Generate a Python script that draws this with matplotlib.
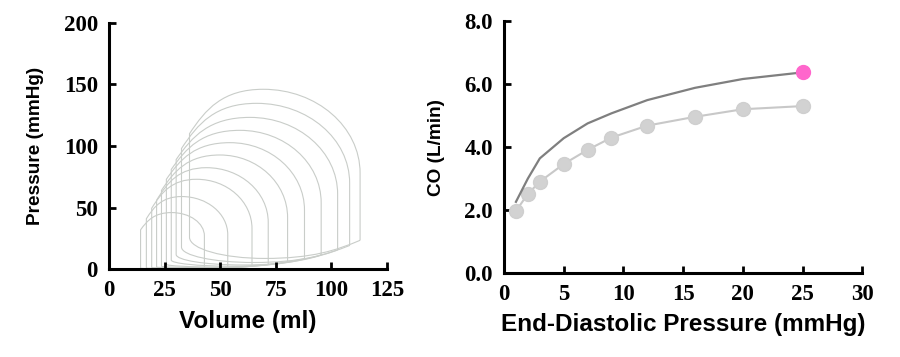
import matplotlib
matplotlib.use("Agg")
import matplotlib.pyplot as plt
from matplotlib.path import Path
from matplotlib.patches import PathPatch

# ---------------- Left panel: pressure-volume loops ----------------
esv      = [14.2, 16.8, 19.2, 21.4, 23.6, 25.8, 28.0, 30.2, 32.6, 36.2]   # end-systolic volume
p_es     = [32, 41, 49.5, 56, 64, 73, 81, 89, 98, 110]                  # end-systolic pressure
v_peak   = [28.2, 32.7, 39.4, 43.9, 49.9, 54.4, 58.9, 63.4, 66.4, 69.4]  # volume at peak pressure
p_peak   = [46, 59, 73, 82.4, 92.7, 102.7, 112.7, 123.2, 134.6, 146]     # peak pressure
edv      = [42.9, 53.4, 64.3, 71.6, 80.3, 87.9, 95.4, 102.8, 108.2, 112.9]  # end-diastolic volume
p_open   = [27, 28, 33, 38, 42, 48, 54, 61, 70, 78]                      # pressure at ejection onset
edp      = [0.8, 1.4, 2.4, 3.8, 6.2, 8.6, 11.6, 15.6, 19.3, 23.5]        # end-diastolic pressure
p_min    = [0.8, 1.0, 1.4, 1.8, 2.5, 4.0, 7.5, 12, 18, 26]               # end of isovolumic relaxation
v_floor  = [25, 30, 35, 40, 45, 50, 55, 60, 65, 70]                      # volume of minimum filling pressure
p_floor  = [0.5, 0.6, 0.8, 1.0, 1.3, 1.8, 2.5, 3.5, 5.5, 8.8]            # minimum filling pressure

vol_ticks = [0, 25, 50, 75, 100, 125]
pres_ticks = [0, 50, 100, 150, 200]

# ---------------- Right panel: cardiac output vs EDP ----------------
edp_pts   = [1, 2, 3, 5, 7, 9, 12, 16, 20, 25]
co_gray   = [1.97, 2.51, 2.90, 3.46, 3.91, 4.30, 4.68, 4.96, 5.20, 5.30]
co_dark   = [2.26, 3.00, 3.64, 4.28, 4.75, 5.07, 5.49, 5.88, 6.16, 6.37]
edp_ticks = [0, 5, 10, 15, 20, 25, 30]
co_ticks  = [0.0, 2.0, 4.0, 6.0, 8.0]

TICK_FONT = dict(family="Liberation Serif", weight="bold", size=16.5)
LABEL_FONT = dict(family="Liberation Sans", weight="bold")

fig = plt.figure(figsize=(9, 3.57), dpi=100)
ax1 = fig.add_axes([0.1211, 0.2457, 0.3089, 0.6907])
ax2 = fig.add_axes([0.56, 0.2353, 0.398, 0.7057])

K = 0.5523
loop_color = "#c9cdc9"
for i in range(len(esv)):
    a, b = esv[i], edv[i]
    vp, pp = v_peak[i], p_peak[i]
    verts = [(b, edp[i]), (b, p_open[i]),
             (b, p_open[i] + K * (pp - p_open[i])), (vp + K * (b - vp), pp), (vp, pp),
             (vp - K * (vp - a), pp), (a + 0.22 * (vp - a), p_es[i] + K * (pp - p_es[i])), (a, p_es[i]),
             (a, p_min[i]),
             (a, p_min[i] - K * (p_min[i] - p_floor[i])), (v_floor[i] - K * (v_floor[i] - a), p_floor[i]),
             (v_floor[i], p_floor[i]),
             (v_floor[i] + 0.5 * (b - v_floor[i]), p_floor[i]),
             (b - 0.25 * (b - v_floor[i]), p_floor[i] + 0.45 * (edp[i] - p_floor[i])),
             (b, edp[i])]
    codes = [Path.MOVETO, Path.LINETO,
             Path.CURVE4, Path.CURVE4, Path.CURVE4,
             Path.CURVE4, Path.CURVE4, Path.CURVE4,
             Path.LINETO,
             Path.CURVE4, Path.CURVE4, Path.CURVE4,
             Path.CURVE4, Path.CURVE4, Path.CURVE4]
    ax1.add_patch(PathPatch(Path(verts, codes), facecolor="none",
                            edgecolor=loop_color, linewidth=0.8))

ax1.set_xlim(0, 125)
ax1.set_ylim(0, 200)
ax1.set_xticks(vol_ticks)
ax1.set_yticks(pres_ticks)
ax1.set_xlabel("Volume (ml)", fontsize=17.5, labelpad=6, **LABEL_FONT)
ax1.set_ylabel("Pressure (mmHg)", fontsize=13.7, labelpad=14, **LABEL_FONT)

ax2.plot(edp_pts, co_gray, color="#c8c8c8", linewidth=1.5, marker="o",
         markersize=10, markerfacecolor="#d2d2d2", markeredgecolor="#cfcfcf",
         zorder=3)
ax2.plot(edp_pts, co_dark, color="#7f7f7f", linewidth=1.6, zorder=4)
ax2.plot(edp_pts[-1:], co_dark[-1:], linestyle="none", marker="o",
         markersize=10, markerfacecolor="#ff66cc", markeredgecolor="#ff66cc",
         zorder=5)
ax2.set_xlim(0, 30)
ax2.set_ylim(0, 8)
ax2.set_xticks(edp_ticks)
ax2.set_yticks(co_ticks)
ax2.set_yticklabels([f"{v:.1f}" for v in co_ticks])
ax2.set_xlabel("End-Diastolic Pressure (mmHg)", fontsize=17.5, labelpad=6, **LABEL_FONT)
ax2.set_ylabel("CO (L/min)", fontsize=13.7, labelpad=14, **LABEL_FONT)

for ax in (ax1, ax2):
    for s in ("top", "right"):
        ax.spines[s].set_visible(False)
    for s in ("left", "bottom"):
        ax.spines[s].set_linewidth(2.2)
        ax.spines[s].set_color("black")
    ax.tick_params(direction="in", length=5, width=2, pad=8)
    for lab in ax.get_xticklabels() + ax.get_yticklabels():
        lab.set_fontfamily(TICK_FONT["family"])
        lab.set_fontweight(TICK_FONT["weight"])
        lab.set_fontsize(TICK_FONT["size"])

fig.savefig("out.png", dpi=100)
